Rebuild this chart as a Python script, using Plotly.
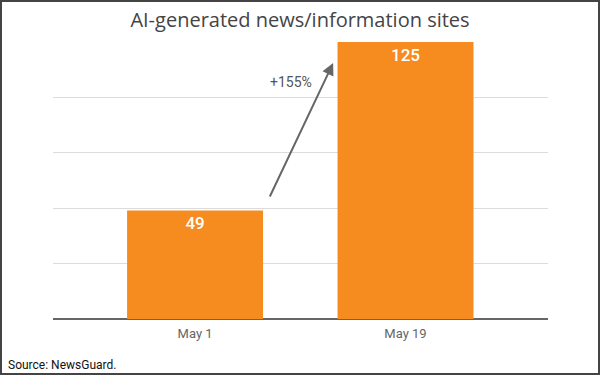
import plotly.graph_objects as go

categories = ["May 1", "May 19"]
values = [49, 125]
change_label = "+155%"
title = "AI-generated news/information sites"
source = "Source: NewsGuard."

xpos = list(range(len(categories)))

fig = go.Figure()
fig.add_trace(go.Bar(
    x=xpos, y=values, width=0.646,
    marker=dict(color="#F68B1F", line=dict(width=0)),
    text=[str(v) for v in values],
    textposition="inside", insidetextanchor="end",
    textfont=dict(family="Roboto", size=17, color="white", weight=500),
    hoverinfo="skip",
))

W, H = 600, 375
l, r, t, b = 53, 52, 42, 56
pw, ph = W - l - r, H - t - b

fig.update_layout(
    width=W, height=H,
    margin=dict(l=l, r=r, t=t, b=b, pad=0),
    paper_bgcolor="white", plot_bgcolor="white",
    showlegend=False,
    xaxis=dict(range=[-0.675, 1.677], tickmode="array", tickvals=xpos, ticktext=categories,
               showgrid=False, zeroline=False, showline=False, ticks="",
               ticklabelstandoff=5,
               tickfont=dict(family="Roboto", size=13, color="#666")),
    yaxis=dict(range=[0, 125], dtick=25, showgrid=True, gridcolor="#dcdcdc", gridwidth=1,
               showticklabels=False, zeroline=True, zerolinecolor="#666", zerolinewidth=1.5,
               showline=False, ticks=""),
    title=dict(text=title, x=0.5, xanchor="center", y=1 - 20 / H, yanchor="middle",
               font=dict(family="Open Sans", size=20, color="#444")),
)

# arrow
fig.add_annotation(x=0.656, y=115.5, ax=0.352, ay=54.6, xref="x", yref="y", axref="x", ayref="y",
                   showarrow=True, arrowhead=2, arrowsize=1.2, arrowwidth=2, arrowcolor="#666", text="")
fig.add_annotation(x=0.455, y=107, xref="x", yref="y", text=change_label, showarrow=False,
                   font=dict(family="Roboto", size=14, color="#555"))
# source
fig.add_annotation(x=-(l - 6) / pw, y=-(365 - (H - b)) / ph, xref="paper", yref="paper",
                   xanchor="left", yanchor="middle", text=source, showarrow=False,
                   font=dict(family="Roboto", size=12, color="#111"))
# border
fig.add_shape(type="rect", xref="paper", yref="paper",
              x0=-(l - 1) / pw, x1=1 + (r - 1) / pw, y0=-(b - 1) / ph, y1=1 + (t - 1) / ph,
              line=dict(color="#444", width=2), fillcolor="rgba(0,0,0,0)")

fig.write_html("out.html", config={"displayModeBar": False},
               post_script="document.body.style.margin='0';document.body.style.overflow='hidden';")
